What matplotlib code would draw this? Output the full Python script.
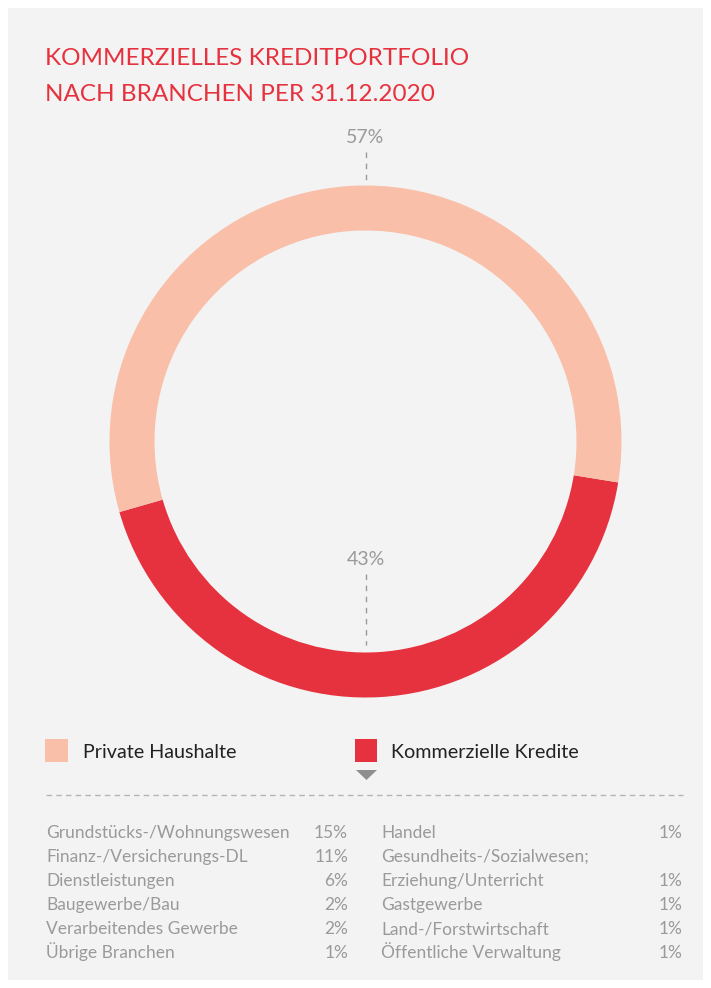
import matplotlib
matplotlib.use("Agg")
import matplotlib.pyplot as plt
from matplotlib.patches import Rectangle, Polygon

# ---- data ----
segments = ["Kommerzielle Kredite", "Private Haushalte"]
shares = [43, 57]
legend_labels = ["Private Haushalte", "Kommerzielle Kredite"]

left_branches = ["Grundstücks-/Wohnungswesen", "Finanz-/Versicherungs-DL", "Dienstleistungen",
                 "Baugewerbe/Bau", "Verarbeitendes Gewerbe", "Übrige Branchen"]
left_values = ["15%", "11%", "6%", "2%", "2%", "1%"]
right_branches = ["Handel", "Gesundheits-/Sozialwesen;", "Erziehung/Unterricht",
                  "Gastgewerbe", "Land-/Forstwirtschaft", "Öffentliche Verwaltung"]
right_values = ["1%", "", "1%", "1%", "1%", "1%"]

title_lines = ["KOMMERZIELLES KREDITPORTFOLIO", "NACH BRANCHEN PER 31.12.2020"]

# ---- style ----
RED = "#e6323e"
PINK = "#f9bfa9"
BG = "#f3f3f3"
GRAY = "#9a9a9a"
TXT = "#222222"
FONT = "Lato"

W, H = 711, 988
fig = plt.figure(figsize=(W / 100, H / 100), dpi=100)
fig.patch.set_facecolor("white")

# overlay axes in pixel coordinates
ov = fig.add_axes([0, 0, 1, 1])
ov.set_xlim(0, W)
ov.set_ylim(H, 0)
ov.axis("off")
ov.add_patch(Rectangle((8, 8), W - 16, H - 16, facecolor=BG, edgecolor="none", zorder=0))

# donut axes
cx, cy, R, ring = 365.5, 441.5, 256.0, 45.0
ax = fig.add_axes([(cx - R) / W, (H - cy - R) / H, 2 * R / W, 2 * R / H])
ax.pie(shares, colors=[RED, PINK], startangle=196, counterclock=True, radius=1.0,
       wedgeprops=dict(width=ring / R, edgecolor="none", linewidth=0))
ax.set_xlim(-1, 1)
ax.set_ylim(-1, 1)
ax.axis("off")
ax.patch.set_alpha(0)

# title
ov.text(45, 65, title_lines[0], color=RED, fontsize=17.5, family=FONT,
        va="baseline", ha="left", zorder=5)
ov.text(45, 101, title_lines[1], color=RED, fontsize=17.5, family=FONT,
        va="baseline", ha="left", zorder=5)

# percent labels with dashed leaders
ov.text(cx, 143, f"{shares[1]}%", color=GRAY, fontsize=14, family=FONT, ha="center", va="baseline")
ov.plot([cx, cx], [152, 180], color=GRAY, lw=1, ls=(0, (4, 4)))
ov.text(cx, 565, f"{shares[0]}%", color=GRAY, fontsize=14, family=FONT, ha="center", va="baseline")
ov.plot([cx, cx], [574, 645], color=GRAY, lw=1, ls=(0, (4, 4)))

# legend
ov.add_patch(Rectangle((45, 739), 23, 23, facecolor=PINK, edgecolor="none"))
ov.text(83, 758, legend_labels[0], color=TXT, fontsize=14.2, family=FONT, va="baseline", ha="left")
ov.add_patch(Rectangle((355, 739), 22, 23, facecolor=RED, edgecolor="none"))
ov.text(391, 758, legend_labels[1], color=TXT, fontsize=14.2, family=FONT, va="baseline", ha="left")
ov.add_patch(Polygon([(356, 770), (377, 770), (366.5, 780)], closed=True, facecolor="#8e8e8e", edgecolor="none"))

# dashed separator
ov.plot([46, 683], [795, 795], color="#b5b5b5", lw=1, ls=(0, (4, 3)))

# table
y0, dy = 838, 24
FS = 12.5
for i, (lab, val) in enumerate(zip(left_branches, left_values)):
    y = y0 + i * dy
    ov.text(46, y, lab, color=GRAY, fontsize=FS, family=FONT, va="baseline", ha="left")
    ov.text(348, y, val, color=GRAY, fontsize=FS, family=FONT, va="baseline", ha="right")
for i, (lab, val) in enumerate(zip(right_branches, right_values)):
    y = y0 + i * dy
    ov.text(381, y, lab, color=GRAY, fontsize=FS, family=FONT, va="baseline", ha="left")
    if val:
        ov.text(683, y, val, color=GRAY, fontsize=FS, family=FONT, va="baseline", ha="right")

fig.savefig("out.png", dpi=100, facecolor=fig.get_facecolor())
